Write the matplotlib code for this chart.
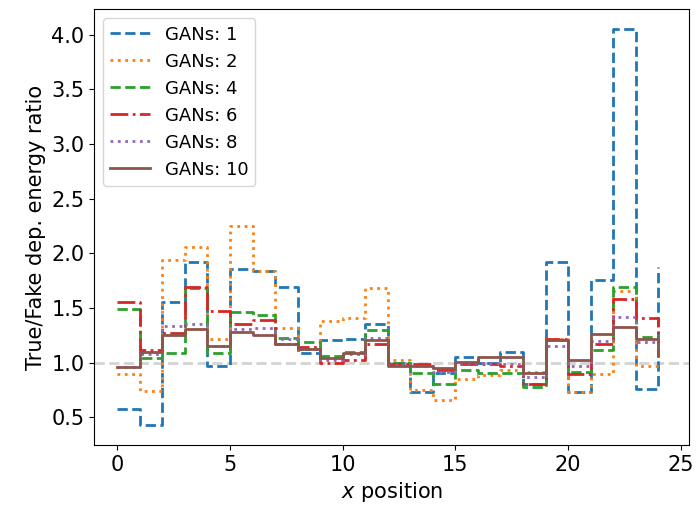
import matplotlib
matplotlib.use("Agg")
import matplotlib.pyplot as plt
import numpy as np

# bin positions along x (step edges, drawn with where='post')
x_pos = np.arange(25)

# True/Fake deposited energy ratio per x bin, one list per number of GANs
ratio_gan1 = [0.58, 0.43, 1.56, 1.92, 0.97, 1.86, 1.84, 1.69, 1.09, 1.21,
              1.22, 1.35, 1.00, 0.73, 0.91, 1.05, 1.00, 1.10, 0.81, 1.92,
              0.73, 1.76, 4.05, 0.76, 1.88]
ratio_gan2 = [0.90, 0.74, 1.94, 2.06, 1.22, 2.25, 1.84, 1.32, 1.13, 1.38,
              1.41, 1.68, 1.03, 0.75, 0.66, 0.85, 0.89, 0.93, 0.92, 1.22,
              0.73, 0.90, 1.66, 0.97, 0.97]
ratio_gan4 = [1.49, 1.04, 1.09, 1.68, 1.09, 1.46, 1.44, 1.23, 1.19, 1.06,
              1.10, 1.30, 1.00, 0.91, 0.81, 0.93, 0.91, 0.91, 0.78, 1.21,
              0.92, 1.12, 1.69, 1.24, 1.24]
ratio_gan6 = [1.56, 1.12, 1.27, 1.69, 1.47, 1.35, 1.39, 1.17, 1.14, 1.00,
              1.03, 1.17, 0.99, 0.99, 0.93, 0.99, 0.99, 0.97, 0.81, 1.22,
              0.90, 1.17, 1.58, 1.41, 1.17]
ratio_gan8 = [0.96, 1.08, 1.34, 1.35, 1.15, 1.31, 1.32, 1.22, 1.13, 1.03,
              1.08, 1.23, 0.98, 0.97, 0.92, 1.00, 1.00, 0.99, 0.87, 1.15,
              0.97, 1.20, 1.42, 1.19, 1.19]
ratio_gan10 = [0.96, 1.10, 1.25, 1.31, 1.155, 1.28, 1.25, 1.17, 1.13, 1.04,
               1.09, 1.21, 0.97, 0.97, 0.95, 1.01, 1.05, 1.05, 0.905, 1.21,
               1.03, 1.26, 1.33, 1.22, 1.06]

series = [
    ("GANs: 1", ratio_gan1, "--"),
    ("GANs: 2", ratio_gan2, ":"),
    ("GANs: 4", ratio_gan4, "--"),
    ("GANs: 6", ratio_gan6, "-."),
    ("GANs: 8", ratio_gan8, ":"),
    ("GANs: 10", ratio_gan10, "-"),
]

fig = plt.figure(figsize=(6.97, 5.15), dpi=100)
ax = fig.add_axes([0.135, 0.136, 0.854, 0.846])

ax.axhline(1.0, color="lightgrey", linestyle="--", linewidth=2, zorder=0)

for label, vals, ls in series:
    ax.step(x_pos, vals, where="post", linestyle=ls, linewidth=2, label=label)

ax.set_xlim(-1.03, 25.38)
ax.set_xlabel("$x$ position", fontsize=15)
ax.set_ylabel("True/Fake dep. energy ratio", fontsize=15)
ax.tick_params(labelsize=15)
ax.set_xticks([0, 5, 10, 15, 20, 25])
ax.set_yticks([0.5, 1.0, 1.5, 2.0, 2.5, 3.0, 3.5, 4.0])

ax.legend(loc="upper left", fontsize=13, handlelength=2.2)

fig.savefig("out.png", dpi=100)
